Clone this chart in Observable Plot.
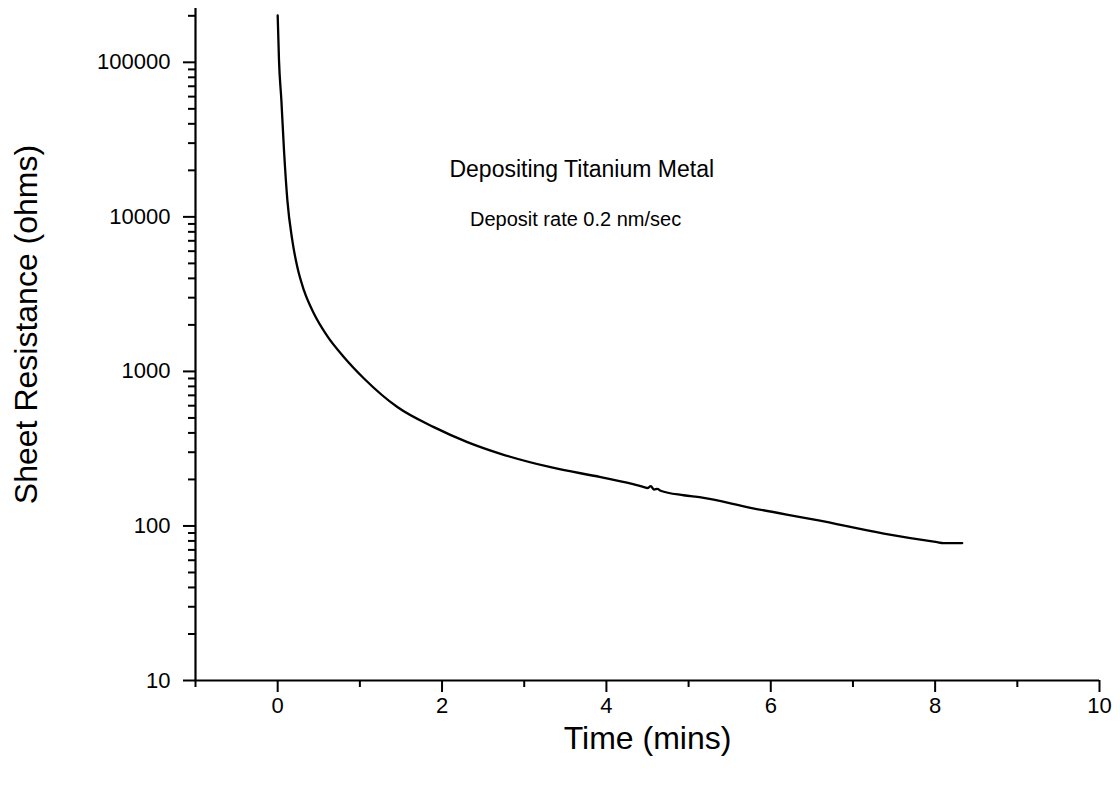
<!DOCTYPE html>
<html>
<head>
<meta charset="utf-8">
<script src="https://cdn.jsdelivr.net/npm/d3@7"></script>
<script src="https://cdn.jsdelivr.net/npm/@observablehq/plot@0.6"></script>
<style>
  html, body { margin: 0; padding: 0; background: #fff; }
  #chart svg { display: block; }
</style>
</head>
<body>
<div id="chart"></div>
<script>
// Time (mins) and sheet resistance (ohms)
const time = [0.00, 0.016, 0.045, 0.077, 0.118, 0.178, 0.239, 0.32, 0.442, 0.604, 0.807, 1.05, 1.456, 1.90, 2.308, 2.713, 3.32, 3.93, 4.30, 4.45, 4.50, 4.54, 4.58, 4.62, 4.66, 4.94, 5.15, 5.754, 6.566, 7.376, 8.025, 8.10, 8.33];
const resistance = [201000, 103000, 56700, 26900, 12800, 7050, 4730, 3340, 2360, 1690, 1235, 900, 588, 436, 349, 293, 240, 207, 188, 179, 176, 181, 172, 174, 169, 158, 153, 131, 109, 89.2, 78.5, 77.5, 77.5];

const xMajorTicks = [0, 2, 4, 6, 8, 10];
const xMinorTicks = [-1, 1, 3, 5, 7, 9];
const yMajorTicks = [10, 100, 1000, 10000, 100000];
const yMinorTicks = [];
for (const d of [10, 100, 1000, 10000]) for (let k = 2; k <= 9; k++) yMinorTicks.push(d * k);
yMinorTicks.push(200000);

const xTitle = "Time (mins)";
const yTitle = "Sheet Resistance (ohms)";
const noteTitle = ["Depositing Titanium Metal"];
const noteSub = ["Deposit rate 0.2 nm/sec"];

const rows = time.map((t, i) => ({t, r: resistance[i]}));
const font = "'Liberation Sans', Arial, Helvetica, sans-serif";

const chart = Plot.plot({
  width: 1120,
  height: 789,
  marginLeft: 195,
  marginRight: 21,
  marginTop: 8,
  marginBottom: 109,
  style: {fontFamily: font, fontSize: "22px", background: "#fff", color: "#000"},
  x: {domain: [-1, 10]},
  y: {type: "log", domain: [10, 223000]},
  marks: [
    Plot.axisX({ticks: xMajorTicks, tickSize: 12, tickPadding: 5, strokeWidth: 2, fontSize: 22, tickFormat: d => String(d), label: null}),
    Plot.axisX({ticks: xMinorTicks, tickSize: 7, strokeWidth: 2, text: null, label: null}),
    Plot.axisY({ticks: yMajorTicks, tickSize: 12, tickPadding: 13, strokeWidth: 2, fontSize: 22, tickFormat: d => String(d), label: null}),
    Plot.axisY({ticks: yMinorTicks, tickSize: 7, strokeWidth: 2, text: null, label: null}),
    Plot.ruleX([-1], {stroke: "#000", strokeWidth: 2.2}),
    Plot.ruleY([10], {stroke: "#000", strokeWidth: 2.2}),
    Plot.line(rows, {x: "t", y: "r", stroke: "#000", strokeWidth: 2.3, curve: "monotone-x"}),
    Plot.text(noteTitle, {x: () => 3.70, y: () => 20300, text: d => d, fontSize: 23, fill: "#000"}),
    Plot.text(noteSub, {x: () => 3.625, y: () => 9550, text: d => d, fontSize: 20, fill: "#000"}),
    Plot.text([xTitle], {frameAnchor: "bottom", textAnchor: "middle", lineAnchor: "middle", dy: 58, text: d => d, fontSize: 32, fill: "#000"}),
    Plot.text([yTitle], {frameAnchor: "left", textAnchor: "middle", lineAnchor: "middle", dx: -169, dy: -20, rotate: -90, text: d => d, fontSize: 32, fill: "#000"})
  ]
});
document.getElementById("chart").appendChild(chart);
</script>
</body>
</html>
